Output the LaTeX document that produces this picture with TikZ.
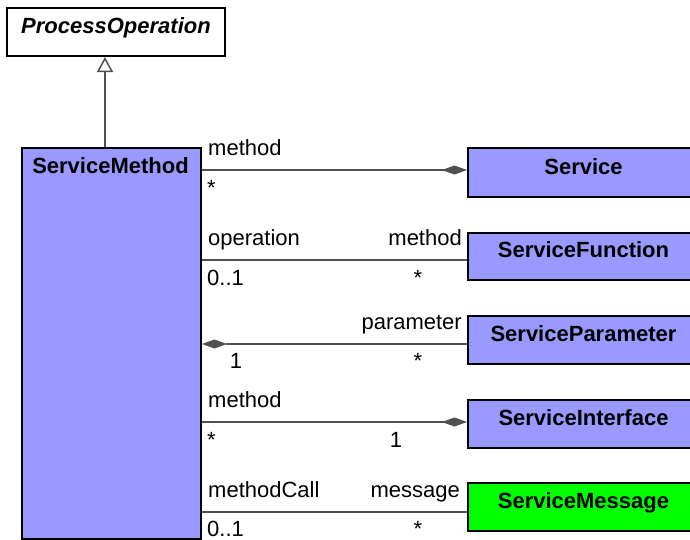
\documentclass[tikz,border=0pt]{standalone}
\usepackage{fontspec}
\setmainfont{Liberation Sans}
\usetikzlibrary{arrows.meta}
\definecolor{classblue}{RGB}{153,153,255}
\definecolor{msggreen}{RGB}{0,255,0}
\definecolor{linegray}{RGB}{80,80,80}
\begin{document}
\begin{tikzpicture}[x=1pt,y=-1pt,
  box/.style={draw=black, line width=2pt, fill=classblue, inner sep=0pt, anchor=north west, minimum width=233pt, minimum height=48pt},
  ttl/.style={font=\fontsize{22}{26}\selectfont\bfseries, anchor=base, inner sep=0pt},
  lbl/.style={font=\fontsize{22}{26}\selectfont, inner sep=0pt},
  lw/.style={lbl, anchor=base west},
  le/.style={lbl, anchor=base east},
  lc/.style={lbl, anchor=base},
  assoc/.style={draw=linegray, line width=1.5pt},
  comp/.style={assoc, -{Diamond[length=25pt,width=9pt,fill=linegray,line width=0pt]}},
  compr/.style={assoc, {Diamond[length=25pt,width=9pt,fill=linegray,line width=0pt]}-},
  gen/.style={assoc, -{Triangle[open, length=15pt, width=16pt, fill=white, line width=1.5pt]}},
]
\useasboundingbox (0,0) rectangle (690,539);
\clip (0,0) rectangle (690,539);
\fill[white] (0,0) rectangle (690,539);

% classes
\node[box, fill=white, minimum width=218pt, minimum height=48pt] (po) at (6,7) {};
\node[ttl, font=\fontsize{22}{26}\selectfont\bfseries\itshape] (poT) at (116,33) {ProcessOperation};

\node[box, minimum width=179pt, minimum height=391pt] (sm) at (21,147) {};
\node[ttl] (smT) at (110.5,173) {ServiceMethod};

\node[box, minimum height=49pt] (svc) at (467,147) {};
\node[ttl] (svcT) at (583.5,174) {Service};

\node[box, minimum height=47pt] (sf) at (467,232) {};
\node[ttl] (sfT) at (583.5,257) {ServiceFunction};

\node[box] (sp) at (467,315) {};
\node[ttl] (spT) at (583.5,341) {ServiceParameter};

\node[box] (si) at (467,399) {};
\node[ttl] (siT) at (583.5,425) {ServiceInterface};

\node[box, fill=msggreen] (smsg) at (467,482) {};
\node[ttl] (smsgT) at (583.5,508) {ServiceMessage};

% generalization
\coordinate (gx) at (105,0);
\draw[gen] (sm.north -| gx) -- (po.south -| gx);

% associations
\coordinate (l1) at ([yshift=2.5pt]svc.west);
\coordinate (l2) at ([yshift=-3.5pt]sf.west);
\coordinate (l3) at ([yshift=-4pt]sp.west);
\coordinate (l4) at ([yshift=2pt]si.west);
\coordinate (l5) at ([yshift=-5pt]smsg.west);

\draw[comp] (sm.east |- l1) -- (l1);
\draw[assoc] (sm.east |- l2) -- (l2);
\draw[compr] (sm.east |- l3) -- (l3);
\draw[comp] (sm.east |- l4) -- (l4);
\draw[assoc] (sm.east |- l5) -- (l5);

% labels
\node[lw] (a1) at (208,155) {method};
\node[lw] (a1m) at (207,195) {*};

\node[lw] (a2) at (208,245) {operation};
\node[le] (b2) at (462,245) {method};
\node[lw] (a2m) at (207,285) {0..1};
\node[lc] (b2m) at (418,285) {*};

\node[le] (b3) at (462,329) {parameter};
\node[lc] (a3m) at (236,368) {1};
\node[lc] (b3m) at (418,368) {*};

\node[lw] (a4) at (208,407) {method};
\node[lw] (a4m) at (207,447) {*};
\node[lc] (b4m) at (396,447) {1};

\node[lw] (a5) at (208,497) {methodCall};
\node[le] (b5) at (460,497) {message};
\node[lw] (a5m) at (207,536) {0..1};
\node[lc] (b5m) at (418,536) {*};
\end{tikzpicture}
\end{document}
